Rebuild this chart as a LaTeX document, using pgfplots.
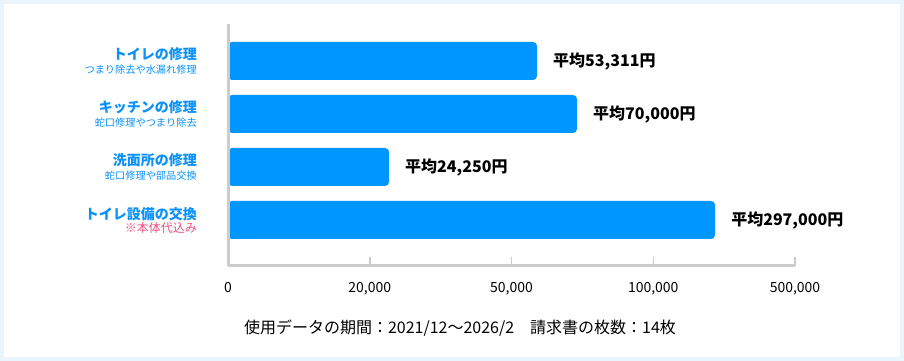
\documentclass[border=0pt]{standalone}
\usepackage{fontspec}
\setmainfont{Noto Sans CJK JP}
\usepackage{pgfplots}
\usepackage{pgfplotstable}
\pgfplotsset{compat=1.18}
\definecolor{barblue}{RGB}{0,150,255}
\definecolor{catblue}{RGB}{10,145,250}
\definecolor{notepink}{RGB}{238,80,128}
\definecolor{axisgray}{RGB}{204,204,204}
\definecolor{bgblue}{RGB}{234,244,253}
% scalepos: bar end on the chart's stepped axis (0 | 20,000 | 50,000 | 100,000 | 500,000 at 0..4)
\pgfplotstableread{
scalepos ypos value label
2.180 205 53311 平均53,311円
2.462 152 70000 平均70,000円
1.136 99 24250 平均24,250円
3.436 46 297000 平均297,000円
}\datatable
\begin{document}
\begin{tikzpicture}
\fill[bgblue] (0,0) rectangle (904pt,361pt);
\fill[white] (4pt,4pt) rectangle (900pt,357pt);
\begin{axis}[
  at={(228pt,95pt)}, anchor=south west,
  scale only axis, width=567pt, height=242pt,
  xmin=0, xmax=4, ymin=0, ymax=242,
  clip=false,
  axis on top,
  axis x line*=bottom, axis y line*=left,
  axis line style={draw=axisgray, line width=3pt, -},
  xtick={0,1,2,3,4},
  xticklabels={0,{20,000},{50,000},{100,000},{500,000}},
  tick align=inside,
  major tick length=9pt,
  x tick style={draw=axisgray, line width=1.5pt},
  xticklabel style={font=\fontsize{14}{16}\selectfont, yshift=-13pt},
  /pgf/number format/assume math mode=true,
  ytick={205,152,99,46},
  yticklabels={
    {{\bfseries\fontsize{14}{15}\selectfont トイレの修理}\\[2pt]{\fontsize{10.2}{11}\selectfont つまり除去や水漏れ修理}},
    {{\bfseries\fontsize{14}{15}\selectfont キッチンの修理}\\[2pt]{\fontsize{10.2}{11}\selectfont 蛇口修理やつまり除去}},
    {{\bfseries\fontsize{14}{15}\selectfont 洗面所の修理}\\[2pt]{\fontsize{10.2}{11}\selectfont 蛇口修理や部品交換}},
    {{\bfseries\fontsize{14}{15}\selectfont トイレ設備の交換}\\[1pt]{\color{notepink}\fontsize{12}{13}\selectfont ※本体代込み}}
  },
  yticklabel style={align=right, anchor=east, text=catblue, xshift=-22pt, inner sep=0pt},
  y tick style={draw=none},
  xbar, bar width=38pt,
  point meta=explicit symbolic,
  nodes near coords,
  every node near coord/.append style={anchor=west, inner sep=0pt, xshift=16pt,
     font=\bfseries\fontsize{16}{18}\selectfont, text=black},
]
\addplot[fill=barblue, draw=none, rounded corners=4pt] table[x=scalepos, y=ypos, meta=label] {\datatable};
\end{axis}
\node[font=\fontsize{16}{18}\selectfont, anchor=center] at (460pt,33pt) {使用データの期間：2021/12〜2026/2　請求書の枚数：14枚};
\pgfresetboundingbox
\useasboundingbox (0,0) rectangle (904pt,361pt);
\end{tikzpicture}
\end{document}
